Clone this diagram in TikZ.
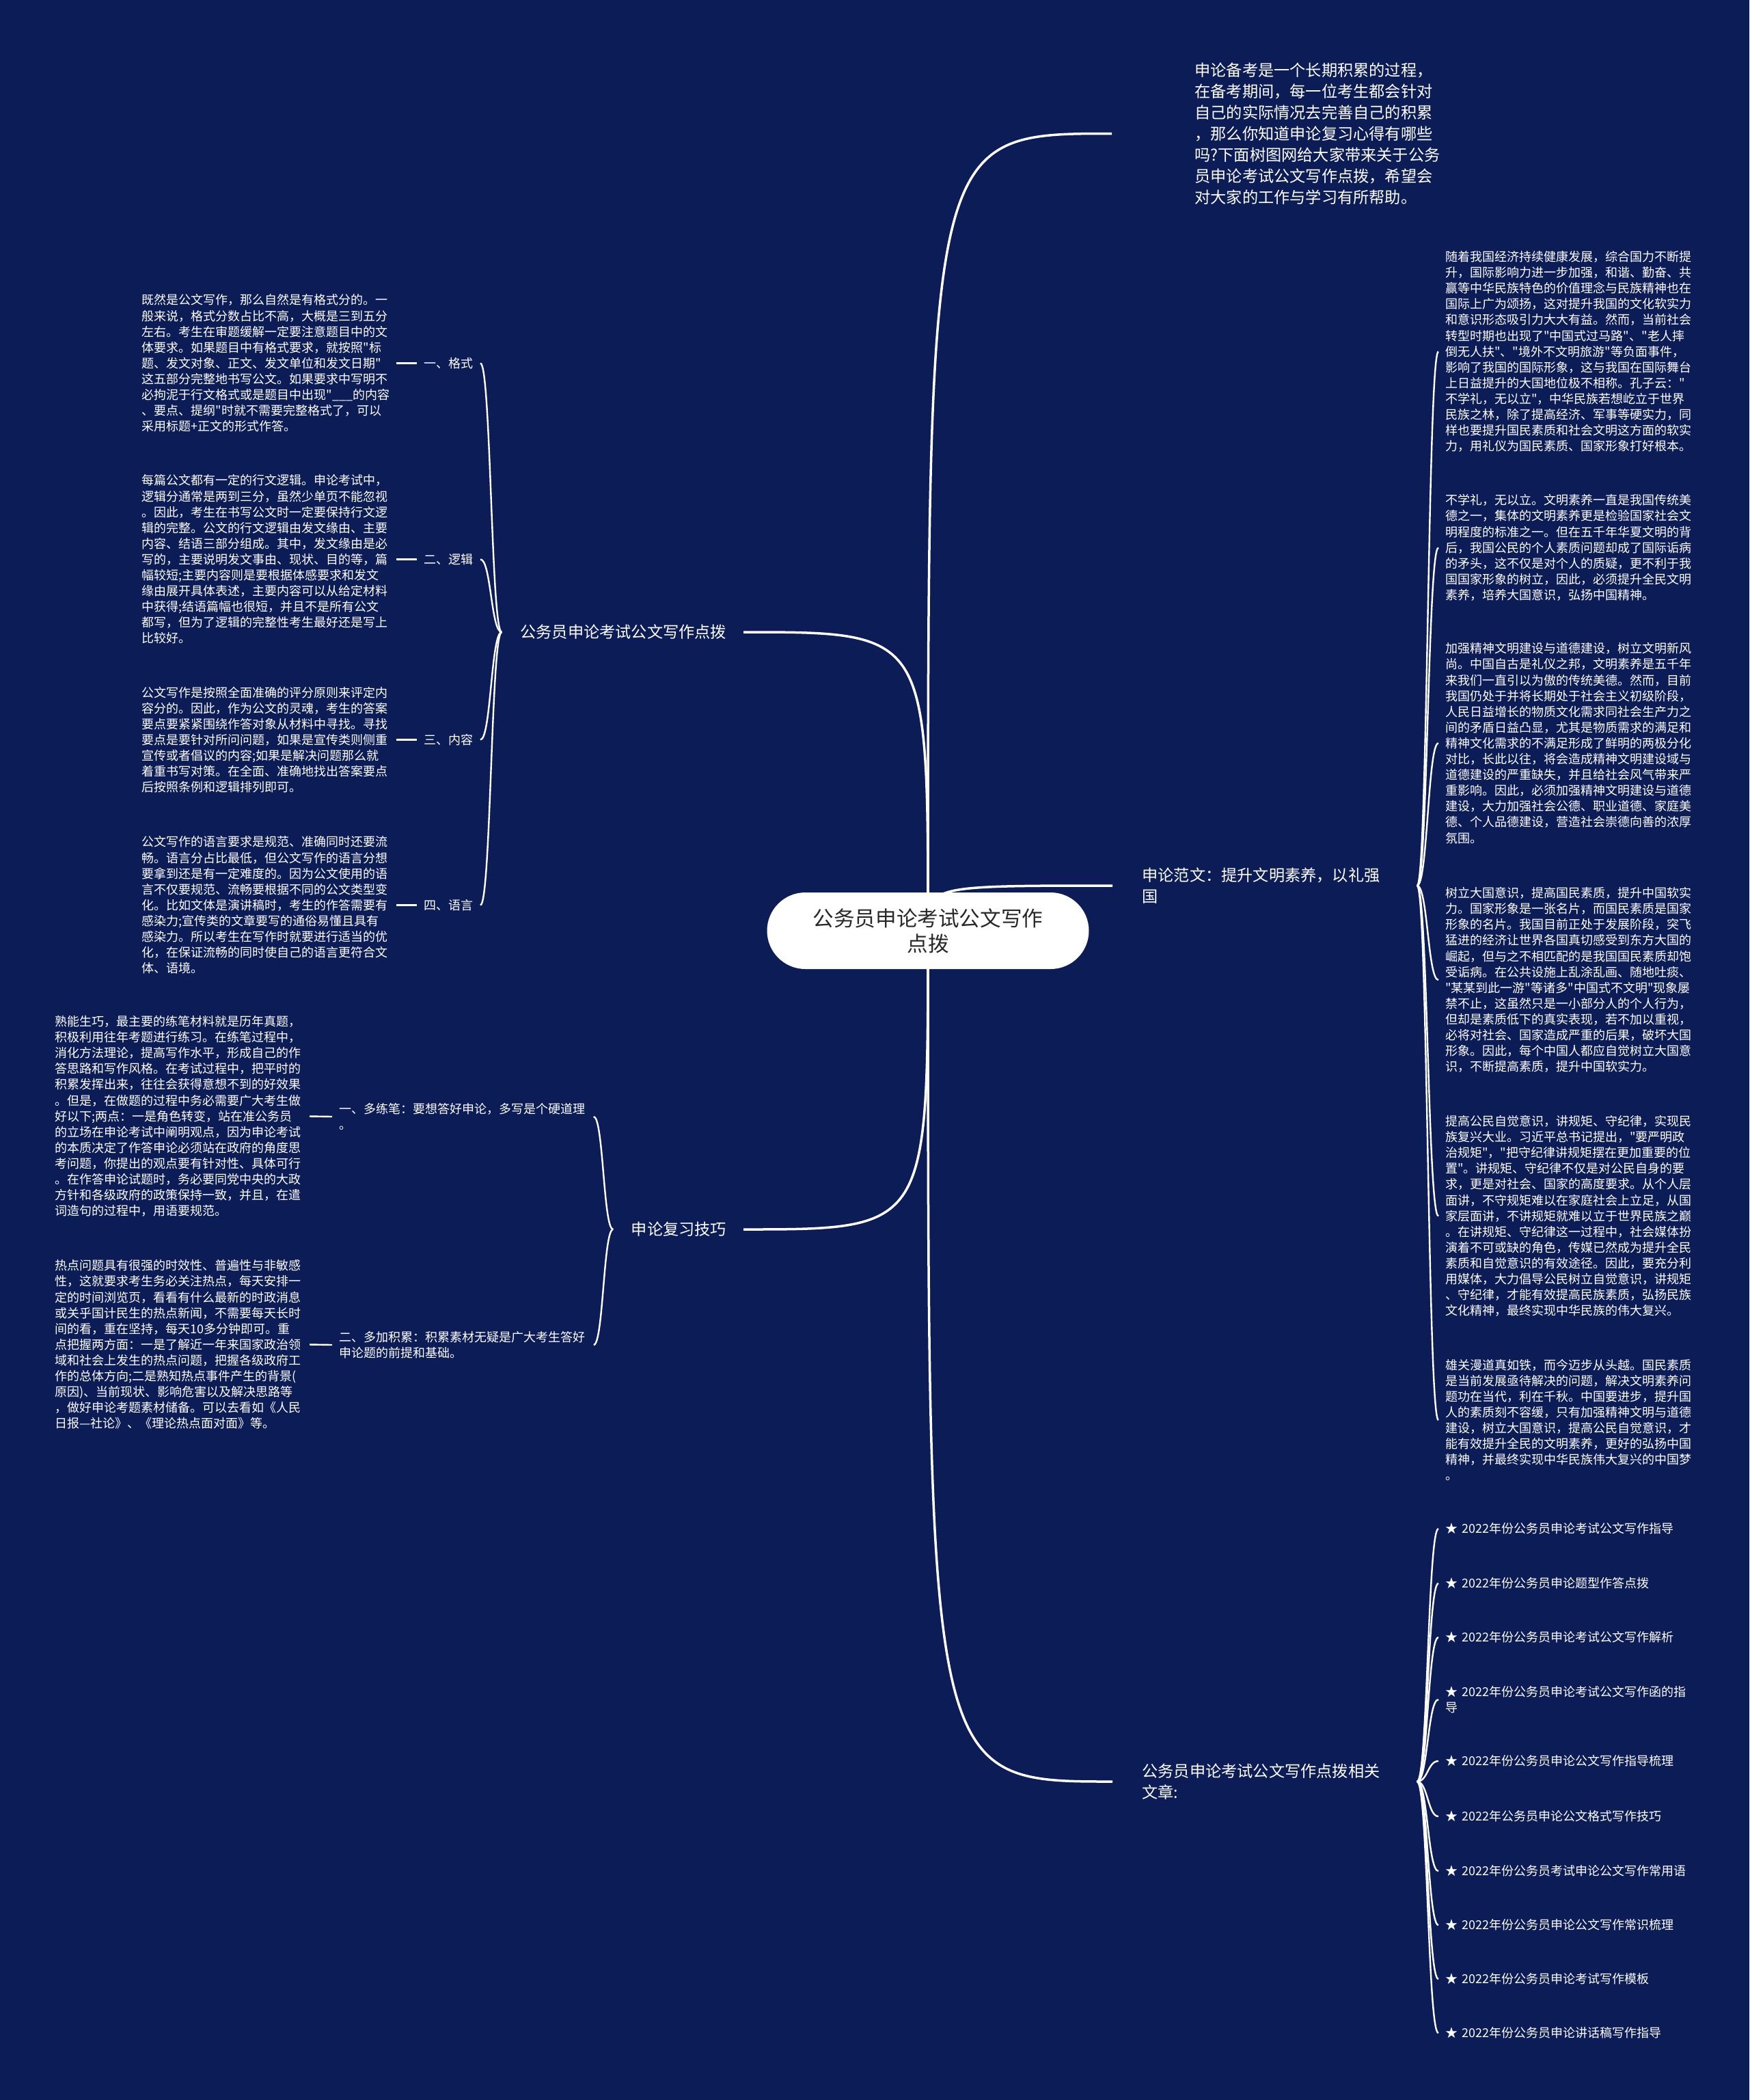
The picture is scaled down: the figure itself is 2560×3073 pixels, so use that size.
\documentclass[tikz,border=0pt]{standalone}
\usepackage{fontspec}
\newfontfamily\cjk{Noto Sans CJK SC}
\usetikzlibrary{calc}
\definecolor{bgc}{RGB}{12,28,86}
\definecolor{roottext}{RGB}{40,40,40}
\pgfdeclarelayer{bglayer}
\pgfdeclarelayer{edgelayer}
\pgfsetlayers{bglayer,edgelayer,main}
\newcommand\rconn[1]{\draw[mainline] let \p1=(root.center), \p2=(#1) in (\p1) .. controls (\x1,\y2) .. (\p2);}
\newcommand\sconn[2]{\draw[subline] let \p1=(#1), \p2=(#2) in (\p1) .. controls ({0.5*\x1+0.5*\x2},\y1) and ({0.5*\x1+0.5*\x2},\y2) .. (\p2);}
\begin{document}
\begin{tikzpicture}[x=0.5pt,y=-0.5pt,
  rootnode/.style={fill=white, text=roottext, rounded corners=28pt, minimum width=235.5pt, minimum height=56pt, align=center, inner sep=0pt, font=\cjk\fontsize{15.3pt}{18.5pt}\selectfont},
  lvone/.style={text=white, inner ysep=0pt, font=\cjk\fontsize{11.6pt}{15.5pt}\selectfont},
  body/.style={text=white, inner ysep=0pt, inner xsep=5pt, font=\cjk\fontsize{9pt}{11.55pt}\selectfont},
  para/.style={body, text width=181pt, align=left},
  mainline/.style={draw=white, line width=1.75pt},
  subline/.style={draw=white, line width=1.2pt}]
\useasboundingbox (0,0) rectangle (2560,3073);
\begin{pgfonlayer}{bglayer}
\fill[bgc] (0,0) rectangle (2560,3073);
\end{pgfonlayer}

% root
\node[rootnode] (root) at (1358,1362) {公务员申论考试公文写作\\点拨};

% level 1
\node[lvone, anchor=west, inner xsep=60.5pt, align=left] (intro) at (1627,195.5) {申论备考是一个长期积累的过程，\\在备考期间，每一位考生都会针对\\自己的实际情况去完善自己的积累\\，那么你知道申论复习心得有哪些\\吗?下面树图网给大家带来关于公务\\员申论考试公文写作点拨，希望会\\对大家的工作与学习有所帮助。};
\node[lvone, anchor=west, inner xsep=21.5pt, text width=179.5pt, align=left] (fanwen) at (1628,1296) {申论范文：提升文明素养，以礼强\\国};
\node[lvone, anchor=west, inner xsep=21.5pt, text width=179.5pt, align=left] (xiangguan) at (1628,2607) {公务员申论考试公文写作点拨相关\\文章:};
\node[lvone, anchor=east, inner xsep=12.25pt, text width=152pt, align=right] (dianbo) at (1088,925) {公务员申论考试公文写作点拨};
\node[lvone, anchor=east, inner xsep=12.25pt, text width=70.5pt, align=right] (jiqiao) at (1088,1799) {申论复习技巧};

% right essays
\node[para, anchor=west] (r1) at (2105,514.5) {随着我国经济持续健康发展，综合国力不断提\\升，国际影响力进一步加强，和谐、勤奋、共\\赢等中华民族特色的价值理念与民族精神也在\\国际上广为颂扬，这对提升我国的文化软实力\\和意识形态吸引力大大有益。然而，当前社会\\转型时期也出现了"中国式过马路"、"老人摔\\倒无人扶"、"境外不文明旅游"等负面事件，\\影响了我国的国际形象，这与我国在国际舞台\\上日益提升的大国地位极不相称。孔子云："\\不学礼，无以立"，中华民族若想屹立于世界\\民族之林，除了提高经济、军事等硬实力，同\\样也要提升国民素质和社会文明这方面的软实\\力，用礼仪为国民素质、国家形象打好根本。};
\node[para, anchor=west] (r2) at (2105,801.5) {不学礼，无以立。文明素养一直是我国传统美\\德之一，集体的文明素养更是检验国家社会文\\明程度的标准之一。但在五千年华夏文明的背\\后，我国公民的个人素质问题却成了国际诟病\\的矛头，这不仅是对个人的质疑，更不利于我\\国国家形象的树立，因此，必须提升全民文明\\素养，培养大国意识，弘扬中国精神。};
\node[para, anchor=west] (r3) at (2105,1087.5) {加强精神文明建设与道德建设，树立文明新风\\尚。中国自古是礼仪之邦，文明素养是五千年\\来我们一直引以为傲的传统美德。然而，目前\\我国仍处于并将长期处于社会主义初级阶段，\\人民日益增长的物质文化需求同社会生产力之\\间的矛盾日益凸显，尤其是物质需求的满足和\\精神文化需求的不满足形成了鲜明的两极分化\\对比，长此以往，将会造成精神文明建设域与\\道德建设的严重缺失，并且给社会风气带来严\\重影响。因此，必须加强精神文明建设与道德\\建设，大力加强社会公德、职业道德、家庭美\\德、个人品德建设，营造社会崇德向善的浓厚\\氛围。};
\node[para, anchor=west] (r4) at (2105,1434) {树立大国意识，提高国民素质，提升中国软实\\力。国家形象是一张名片，而国民素质是国家\\形象的名片。我国目前正处于发展阶段，突飞\\猛进的经济让世界各国真切感受到东方大国的\\崛起，但与之不相匹配的是我国国民素质却饱\\受诟病。在公共设施上乱涂乱画、随地吐痰、\\"某某到此一游"等诸多"中国式不文明"现象屡\\禁不止，这虽然只是一小部分人的个人行为，\\但却是素质低下的真实表现，若不加以重视，\\必将对社会、国家造成严重的后果，破坏大国\\形象。因此，每个中国人都应自觉树立大国意\\识，不断提高素质，提升中国软实力。};
\node[para, anchor=west] (r5) at (2105,1779.5) {提高公民自觉意识，讲规矩、守纪律，实现民\\族复兴大业。习近平总书记提出，"要严明政\\治规矩"，"把守纪律讲规矩摆在更加重要的位\\置"。讲规矩、守纪律不仅是对公民自身的要\\求，更是对社会、国家的高度要求。从个人层\\面讲，不守规矩难以在家庭社会上立足，从国\\家层面讲，不讲规矩就难以立于世界民族之巅\\。在讲规矩、守纪律这一过程中，社会媒体扮\\演着不可或缺的角色，传媒已然成为提升全民\\素质和自觉意识的有效途径。因此，要充分利\\用媒体，大力倡导公民树立自觉意识，讲规矩\\、守纪律，才能有效提高民族素质，弘扬民族\\文化精神，最终实现中华民族的伟大复兴。};
\node[para, anchor=west] (r6) at (2105,2078) {雄关漫道真如铁，而今迈步从头越。国民素质\\是当前发展亟待解决的问题，解决文明素养问\\题功在当代，利在千秋。中国要进步，提升国\\人的素质刻不容缓，只有加强精神文明与道德\\建设，树立大国意识，提高公民自觉意识，才\\能有效提升全民的文明素养，更好的弘扬中国\\精神，并最终实现中华民族伟大复兴的中国梦\\。};

% related links
\node[para, anchor=west] (k1) at (2105,2237) {★ 2022年份公务员申论考试公文写作指导};
\node[para, anchor=west] (k2) at (2105,2317) {★ 2022年份公务员申论题型作答点拨};
\node[para, anchor=west] (k3) at (2105,2396) {★ 2022年份公务员申论考试公文写作解析};
\node[para, anchor=west] (k4) at (2105,2487) {★ 2022年份公务员申论考试公文写作函的指\\导};
\node[para, anchor=west] (k5) at (2105,2577) {★ 2022年份公务员申论公文写作指导梳理};
\node[para, anchor=west] (k6) at (2105,2658) {★ 2022年公务员申论公文格式写作技巧};
\node[para, anchor=west] (k7) at (2105,2738) {★ 2022年份公务员考试申论公文写作常用语};
\node[para, anchor=west] (k8) at (2105,2817) {★ 2022年份公务员申论公文写作常识梳理};
\node[para, anchor=west] (k9) at (2105,2896) {★ 2022年份公务员申论考试写作模板};
\node[para, anchor=west] (k10) at (2105,2975) {★ 2022年份公务员申论讲话稿写作指导};

% left labels
\node[body, anchor=east] (g1) at (703,531.5) {一、格式};
\node[body, anchor=east] (g2) at (703,818.5) {二、逻辑};
\node[body, anchor=east] (g3) at (703,1082.5) {三、内容};
\node[body, anchor=east] (g4) at (703,1324.5) {四、语言};

\node[para, anchor=east] (d1) at (580,531.5) {既然是公文写作，那么自然是有格式分的。一\\般来说，格式分数占比不高，大概是三到五分\\左右。考生在审题缓解一定要注意题目中的文\\体要求。如果题目中有格式要求，就按照"标\\题、发文对象、正文、发文单位和发文日期"\\这五部分完整地书写公文。如果要求中写明不\\必拘泥于行文格式或是题目中出现"\_\_\_的内容\\、要点、提纲"时就不需要完整格式了，可以\\采用标题+正文的形式作答。};
\node[para, anchor=east] (d2) at (580,818.5) {每篇公文都有一定的行文逻辑。申论考试中，\\逻辑分通常是两到三分，虽然少单页不能忽视\\。因此，考生在书写公文时一定要保持行文逻\\辑的完整。公文的行文逻辑由发文缘由、主要\\内容、结语三部分组成。其中，发文缘由是必\\写的，主要说明发文事由、现状、目的等，篇\\幅较短;主要内容则是要根据体感要求和发文\\缘由展开具体表述，主要内容可以从给定材料\\中获得;结语篇幅也很短，并且不是所有公文\\都写，但为了逻辑的完整性考生最好还是写上\\比较好。};
\node[para, anchor=east] (d3) at (580,1082.5) {公文写作是按照全面准确的评分原则来评定内\\容分的。因此，作为公文的灵魂，考生的答案\\要点要紧紧围绕作答对象从材料中寻找。寻找\\要点是要针对所问问题，如果是宣传类则侧重\\宣传或者倡议的内容;如果是解决问题那么就\\着重书写对策。在全面、准确地找出答案要点\\后按照条例和逻辑排列即可。};
\node[para, anchor=east] (d4) at (580,1324.5) {公文写作的语言要求是规范、准确同时还要流\\畅。语言分占比最低，但公文写作的语言分想\\要拿到还是有一定难度的。因为公文使用的语\\言不仅要规范、流畅要根据不同的公文类型变\\化。比如文体是演讲稿时，考生的作答需要有\\感染力;宣传类的文章要写的通俗易懂且具有\\感染力。所以考生在写作时就要进行适当的优\\化，在保证流畅的同时使自己的语言更符合文\\体、语境。};

\node[para, anchor=west] (m1) at (486,1634) {一、多练笔：要想答好申论，多写是个硬道理\\。};
\node[para, anchor=west] (m2) at (486,1968) {二、多加积累：积累素材无疑是广大考生答好\\申论题的前提和基础。};
\node[para, anchor=east] (e1) at (453,1633.5) {熟能生巧，最主要的练笔材料就是历年真题，\\积极利用往年考题进行练习。在练笔过程中，\\消化方法理论，提高写作水平，形成自己的作\\答思路和写作风格。在考试过程中，把平时的\\积累发挥出来，往往会获得意想不到的好效果\\。但是，在做题的过程中务必需要广大考生做\\好以下;两点：一是角色转变，站在准公务员\\的立场在申论考试中阐明观点，因为申论考试\\的本质决定了作答申论必须站在政府的角度思\\考问题，你提出的观点要有针对性、具体可行\\。在作答申论试题时，务必要同党中央的大政\\方针和各级政府的政策保持一致，并且，在遣\\词造句的过程中，用语要规范。};
\node[para, anchor=east] (e2) at (453,1967.5) {热点问题具有很强的时效性、普遍性与非敏感\\性，这就要求考生务必关注热点，每天安排一\\定的时间浏览页，看看有什么最新的时政消息\\或关乎国计民生的热点新闻，不需要每天长时\\间的看，重在坚持，每天10多分钟即可。重\\点把握两方面：一是了解近一年来国家政治领\\域和社会上发生的热点问题，把握各级政府工\\作的总体方向;二是熟知热点事件产生的背景(\\原因)、当前现状、影响危害以及解决思路等\\，做好申论考题素材储备。可以去看如《人民\\日报—社论》、《理论热点面对面》等。};

\begin{pgfonlayer}{edgelayer}
\rconn{intro.west}
\rconn{fanwen.west}
\rconn{xiangguan.west}
\rconn{dianbo.east}
\rconn{jiqiao.east}
\foreach \nd in {r1,r2,r3,r4,r5,r6} {\sconn{fanwen.east}{\nd.west}}
\foreach \nd in {k1,k2,k3,k4,k5,k6,k7,k8,k9,k10} {\sconn{xiangguan.east}{\nd.west}}
\foreach \nd in {g1,g2,g3,g4} {\sconn{dianbo.west}{\nd.east}}
\sconn{jiqiao.west}{m1.east}
\sconn{jiqiao.west}{m2.east}
\draw[subline] (g1.west) -- (d1.east);
\draw[subline] (g2.west) -- (d2.east);
\draw[subline] (g3.west) -- (d3.east);
\draw[subline] (g4.west) -- (d4.east);
\draw[subline] (m1.west) -- (e1.east);
\draw[subline] (m2.west) -- (e2.east);
\end{pgfonlayer}
\end{tikzpicture}
\end{document}
